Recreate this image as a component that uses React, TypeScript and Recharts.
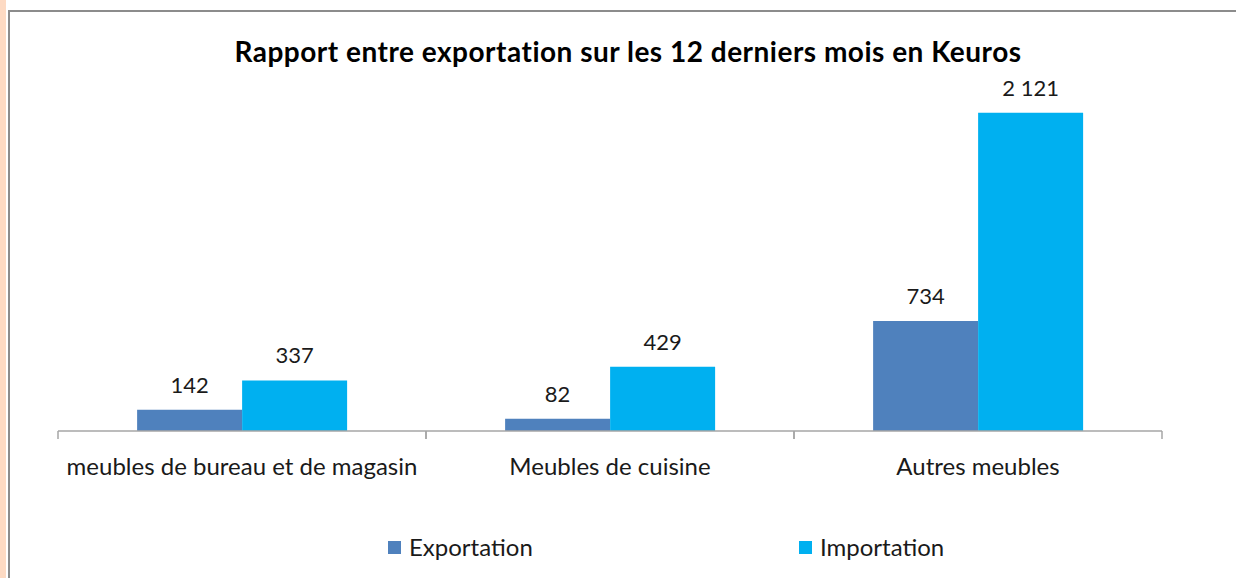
import { BarChart, Bar, XAxis, YAxis, Legend, LabelList } from 'recharts';

const categories = ['meubles de bureau et de magasin', 'Meubles de cuisine', 'Autres meubles'];
const exportation = [142, 82, 734];
const importation = [337, 429, 2121];

const seriesNames = ['Exportation', 'Importation'];
const seriesColors = ['#4F81BD', '#00B0F0'];

const data = categories.map((name, i) => ({
  name,
  exportation: exportation[i],
  importation: importation[i],
}));

const FONT = 'Lato, Carlito, Calibri, sans-serif';
const BAND = 368;

const formatValue = (v: any) => String(v).replace(/\B(?=(\d{3})+(?!\d))/g, ' ');

const CategoryTick = ({ x, y, payload }: any) => (
  <g>
    <line x1={x - BAND / 2} x2={x - BAND / 2} y1={y - 8} y2={y} stroke="#A6A6A6" strokeWidth={1.5} />
    <line x1={x + BAND / 2} x2={x + BAND / 2} y1={y - 8} y2={y} stroke="#A6A6A6" strokeWidth={1.5} />
    <text x={x} y={y} dy={36} textAnchor="middle" fill="#1a1a1a" fontSize={24} fontFamily={FONT}>
      {payload.value}
    </text>
  </g>
);

// legend items laid out like the Excel export: fixed slot per entry
const renderLegend = () => (
  <div style={{ display: 'flex', paddingLeft: 388, fontFamily: FONT, fontSize: 24, color: '#1a1a1a' }}>
    {seriesNames.map((name, i) => (
      <div key={name} style={{ display: 'flex', alignItems: 'center', width: i === 0 ? 411 : 'auto', height: 24, lineHeight: '24px' }}>
        <span style={{ display: 'inline-block', width: 13, height: 13, background: seriesColors[i], marginRight: 8 }} />
        <span>{name}</span>
      </div>
    ))}
  </div>
);

export default function App() {
  return (
    <div style={{ position: 'absolute', left: 0, top: 0, width: 1236, height: 578, overflow: 'hidden', background: '#fff' }}>
      <div style={{ position: 'absolute', left: 0, top: 0, width: 6, height: 578, background: '#FDDAC3' }} />
      <div
        style={{
          position: 'absolute',
          left: 8,
          top: 10,
          width: 1300,
          height: 700,
          borderLeft: '2px solid #8C8C8C',
          borderTop: '2px solid #8C8C8C',
        }}
      />
      <div
        style={{
          position: 'absolute',
          left: 128,
          top: 36,
          width: 1000,
          textAlign: 'center',
          fontFamily: FONT,
          fontWeight: 'bold',
          fontSize: 28,
          letterSpacing: 0.5,
          lineHeight: '30px',
          color: '#000',
          whiteSpace: 'nowrap',
        }}
      >
        Rapport entre exportation sur les 12 derniers mois en Keuros
      </div>
      <div style={{ position: 'absolute', left: 0, top: 0 }}>
        <BarChart
          width={1236}
          height={578}
          data={data}
          margin={{ top: 56, right: 74, bottom: 117, left: 58 }}
          barCategoryGap="21.5%"
          barGap={0}
        >
          <XAxis
            dataKey="name"
            height={30}
            axisLine={{ stroke: '#A6A6A6', strokeWidth: 1.5 }}
            tickLine={false}
            tickSize={8}
            tickMargin={0}
            tick={<CategoryTick />}
            interval={0}
          />
          <YAxis hide domain={[0, 2500]} />
          <Legend content={renderLegend} wrapperStyle={{ left: 0, top: 535, width: 1236, height: 0, overflow: 'visible' }} />
          <Bar dataKey="exportation" name={seriesNames[0]} fill={seriesColors[0]} isAnimationActive={false}>
            <LabelList dataKey="exportation" position="top" offset={17} formatter={formatValue} fill="#1a1a1a" fontSize={22} fontFamily={FONT} />
          </Bar>
          <Bar dataKey="importation" name={seriesNames[1]} fill={seriesColors[1]} isAnimationActive={false}>
            <LabelList dataKey="importation" position="top" offset={17} formatter={formatValue} fill="#1a1a1a" fontSize={22} fontFamily={FONT} />
          </Bar>
        </BarChart>
      </div>
    </div>
  );
}
